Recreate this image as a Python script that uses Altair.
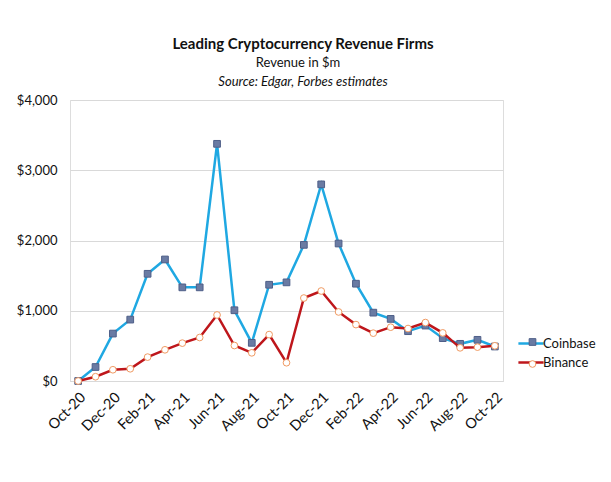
import altair as alt
import pandas as pd

months = ["Oct-20", "Nov-20", "Dec-20", "Jan-21", "Feb-21", "Mar-21", "Apr-21", "May-21",
          "Jun-21", "Jul-21", "Aug-21", "Sep-21", "Oct-21", "Nov-21", "Dec-21", "Jan-22",
          "Feb-22", "Mar-22", "Apr-22", "May-22", "Jun-22", "Jul-22", "Aug-22", "Sep-22", "Oct-22"]
coinbase = [0, 199, 675, 874, 1526, 1730, 1333, 1333, 3376, 1007, 543, 1370, 1404, 1938, 2799,
            1957, 1385, 973, 884, 709, 789, 610, 529, 586, 491]
binance = [0, 61, 160, 174, 340, 444, 539, 619, 940, 505, 401, 661, 260, 1181, 1281,
           983, 803, 681, 766, 747, 832, 685, 472, 482, 501]
series_names = ["Coinbase", "Binance"]
y_ticks = [0, 1000, 2000, 3000, 4000]
title_text = "Leading Cryptocurrency Revenue Firms"
subtitle_text = "Revenue in $m"
source_text = "Source: Edgar, Forbes estimates"

rows = []
for name, vals in zip(series_names, [coinbase, binance]):
    for m, v in zip(months, vals):
        rows.append({"month": m, "series": name, "marker": name, "value": v})
df = pd.DataFrame(rows)

FONT = "Lato"
line_colors = ["#1FA8E2", "#BE161B"]          # Coinbase, Binance
# marker scales use the default alphabetical domain: Binance, Coinbase
marker_fill = ["#FFFFFF", "#6A7BA3"]
marker_stroke = ["#F09A62", "#4F5F88"]
marker_shape = ["circle", "square"]

x_enc = alt.X("month:O", sort=months,
              scale=alt.Scale(type="point", padding=0.47),
              axis=alt.Axis(values=months[::2], labelAngle=-45, title=None, ticks=False,
                            domainColor="#D9D9D9", labelFontSize=14.5, labelFont=FONT,
                            labelColor="#111", labelPadding=9))
y_enc = alt.Y("value:Q", scale=alt.Scale(domain=[0, 4000]),
              axis=alt.Axis(values=y_ticks, format="$,.0f", title=None, domain=False,
                            ticks=False, gridColor="#D9D9D9", labelFontSize=13,
                            labelFont=FONT, labelColor="#111", labelPadding=13))

line_legend = alt.Legend(title=None, orient="none", legendX=449, legendY=231.5,
                         symbolType="M-1.2,0H1.2", symbolSize=441, symbolStrokeWidth=2.5,
                         labelFontSize=13, labelFont=FONT, labelColor="#111",
                         labelOffset=0, rowPadding=0)
pt_legend = alt.Legend(title=None, orient="none", legendX=456, legendY=235.5,
                       values=series_names,
                       symbolSize=45, symbolStrokeWidth=1,
                       labelFontSize=13, labelFont=FONT, labelOpacity=0,
                       labelOffset=0, rowPadding=8)

color_enc = alt.Color("series:N", scale=alt.Scale(domain=series_names, range=line_colors),
                      legend=line_legend)
fill_enc = alt.Fill("marker:N", scale=alt.Scale(range=marker_fill), legend=pt_legend)
stroke_enc = alt.Stroke("marker:N", scale=alt.Scale(range=marker_stroke), legend=pt_legend)
shape_enc = alt.Shape("marker:N", scale=alt.Scale(range=marker_shape), legend=pt_legend)

layers = []
for name in series_names:
    base = alt.Chart(df).transform_filter(alt.datum.series == name)
    layers.append(base.mark_line(strokeWidth=2.5).encode(x=x_enc, y=y_enc, color=color_enc))
    layers.append(base.mark_point(filled=True, size=45, strokeWidth=1, opacity=1).encode(
        x=x_enc, y=y_enc, fill=fill_enc, stroke=stroke_enc, shape=shape_enc))

one = pd.DataFrame({"k": [0]})
t1 = alt.Chart(one).mark_text(font=FONT, fontSize=15, fontWeight="bold", color="#111",
                              baseline="middle", align="center").encode(
    x=alt.value(233), y=alt.value(-56), text=alt.value(title_text))
t2 = alt.Chart(one).mark_text(font=FONT, fontSize=13, color="#111",
                              baseline="middle", align="center").encode(
    x=alt.value(228), y=alt.value(-37), text=alt.value(subtitle_text))
t3 = alt.Chart(one).mark_text(font=FONT, fontSize=13, fontStyle="italic", color="#111",
                              baseline="middle", align="center").encode(
    x=alt.value(233), y=alt.value(-18), text=alt.value(source_text))

chart = alt.layer(*layers, t1, t2, t3).properties(
    width=433, height=281,
    padding={"left": 8, "top": 29, "right": 5, "bottom": 5},
).configure_view(stroke=None).configure(background="white")

chart.save("out.html", embed_options={"renderer": "svg", "actions": False})
